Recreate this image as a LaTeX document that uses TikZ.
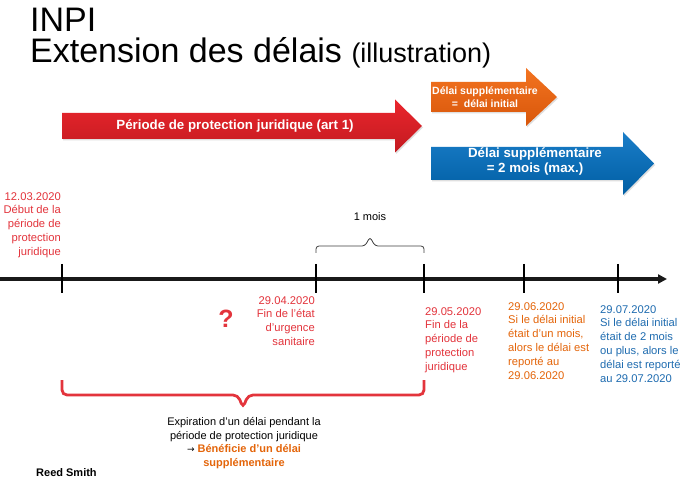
\documentclass[tikz,border=0pt]{standalone}
\usepackage{fontspec}
\setmainfont{Liberation Sans}
\newfontfamily\arrowfont{DejaVu Sans}
\usetikzlibrary{calc,arrows.meta,shadows}
\definecolor{lblred}{HTML}{E3343C}
\definecolor{lblorange}{HTML}{E4650A}
\definecolor{lblblue}{HTML}{1F6CB0}
\definecolor{redtop}{HTML}{EA262D}
\definecolor{redbot}{HTML}{C31A20}
\definecolor{orangetop}{HTML}{F37421}
\definecolor{orangebot}{HTML}{D8560A}
\definecolor{bluetop}{HTML}{1A7DC8}
\definecolor{bluebot}{HTML}{005EA3}
\newcommand{\fs}[2]{\fontsize{#1}{#2}\selectfont}
\def\blockarrow[#1](#2,#3)(#4:#5:#6:#7)% Syntax: [shade options] (tail x,centre y) (tip x:head x:body half height:head half height)
    { \shade[#1] (#2,#3-#6) -- (#5,#3-#6) -- (#5,#3-#7) -- (#4,#3) -- (#5,#3+#7) -- (#5,#3+#6) -- (#2,#3+#6) -- cycle; }
\def\spanbrace[#1](#2)(#3)(#4:#5)% Syntax: [draw options] (left end) (right end) (end drop:spike drop)
    { \draw[#1] (#2) -- ($(#2)+(0,#4)$) -- ($(#2)!0.5!(#3)+(-5,#4)$) -- ($(#2)!0.5!(#3)+(0,#5)$)
        -- ($(#2)!0.5!(#3)+(5,#4)$) -- ($(#3)+(0,#4)$) -- (#3); }

\begin{document}
\begin{tikzpicture}[x=1pt,y=-1pt,
  lbl/.style={inner sep=0, font=\fs{11.2}{13.9}},
  tick/.style={line width=1.1pt},
  arrowshadow/.style={drop shadow={opacity=0.25,shadow xshift=1pt,shadow yshift=-1.5pt}}]
\useasboundingbox[fill=white] (0,0) rectangle (683,489);
% title
\node[inner sep=0, anchor=base west, font=\fs{34}{40}] (title1) at (30,32) {INPI};
\node[inner sep=0, anchor=base west, font=\fs{34}{40}] (title2) at (30,63) {Extension des délais {\fs{27}{30}(illustration)}};
% the three periods
\blockarrow[top color=redtop, bottom color=redbot, arrowshadow](62,126)(422:395:13:26.5)
\node[font=\fs{13.3}{15}\bfseries, text=white] (protection) at (235,126) {Période de protection juridique (art 1)};
\blockarrow[top color=orangetop, bottom color=orangebot, arrowshadow](431,97)(557:526:15:29)
\node[font=\fs{10.5}{12.5}\bfseries, text=white, align=center] (extra1) at (485,97) {Délai supplémentaire\\=\ \ délai initial};
\blockarrow[top color=bluetop, bottom color=bluebot, arrowshadow](431,163.5)(654:623:16.5:31.5)
\node[font=\fs{13.3}{15}\bfseries, text=white, align=center] (extra2) at (535,162) {Délai supplémentaire\\= 2 mois (max.)};
% time line
\coordinate (origin) at (0,279);
\coordinate (end) at (667,279);
\draw[line width=4pt, black!90, -{Triangle[length=9pt,width=9pt]}] (origin) -- (end);
\foreach \x [count=\i] in {62,316,424,524,618} {
  \coordinate (t\i) at (\x,279);
  \draw[tick] (\x,264) -- (\x,293);
}
% one month
\coordinate (m1) at ($(t2)+(0,-26)$);
\coordinate (m2) at ($(t3)+(0,-26)$);
\spanbrace[black!75, line width=0.8pt, rounded corners=3pt](m1)(m2)(-7:-16)
\node[inner sep=0, font=\fs{11}{13}] (month) at (370,217) {1 mois};
% dates
\node[lbl, text=lblred, align=right, anchor=north east] (d1203) at (61,192) {12.03.2020\\Début de la\\période de\\protection\\juridique};
\node[lbl, text=lblred, align=right, anchor=north east] (d2904) at (315,296) {29.04.2020\\Fin de l’état\\d’urgence\\sanitaire};
\node[lbl, text=lblred, align=left, anchor=north west] (d2905) at (425,307) {29.05.2020\\Fin de la\\période de\\protection\\juridique};
\node[lbl, text=lblorange, align=left, anchor=north west] (d2906) at (508,302) {29.06.2020\\Si le délai initial\\était d’un mois,\\alors le délai est\\reporté au\\29.06.2020};
\node[lbl, text=lblblue, align=left, anchor=north west] (d2907) at (600,305) {29.07.2020\\Si le délai initial\\était de 2 mois\\ou plus, alors le\\délai est reporté\\au 29.07.2020};
\node[inner sep=0, text=lblred, font=\fs{25}{28}\bfseries] (question) at (226,319) {?};
% expiry during the protection period
\coordinate (p1) at ($(t1)+(0,101)$);
\coordinate (p2) at ($(t3)+(0,101)$);
\spanbrace[lblred, line width=2.8pt, rounded corners=5pt](p1)(p2)(15:28)
\node[lbl, align=center, anchor=north, font=\fs{11}{13.7}] (expiry) at (244,417) {Expiration d’un délai pendant la\\période de protection juridique\\{\arrowfont\fs{9}{13.7}→} \textcolor{lblorange}{\bfseries Bénéficie d’un délai}\\\textcolor{lblorange}{\bfseries supplémentaire}};
\node[inner sep=0, anchor=base west, font=\fs{11}{13}\bfseries] (firm) at (36,476) {Reed Smith};
\end{tikzpicture}
\end{document}
